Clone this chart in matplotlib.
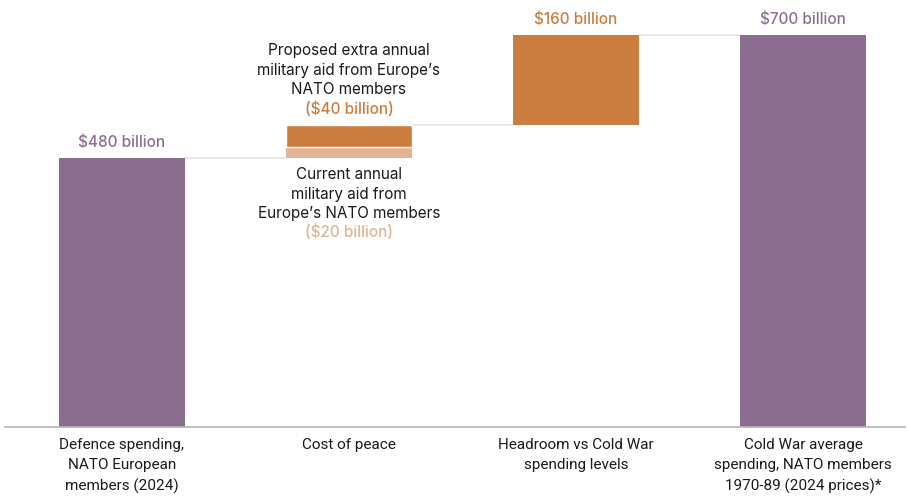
import matplotlib
matplotlib.use("Agg")
import matplotlib.pyplot as plt

categories = ["Defence spending,\nNATO European\nmembers (2024)", "Cost of peace",
              "Headroom vs Cold War\nspending levels",
              "Cold War average\nspending, NATO members\n1970-89 (2024 prices)*"]
defence_2024 = 480
current_aid = 20
proposed_aid = 40
headroom = 160
cold_war = 700
value_labels = ["$480 billion", "$160 billion", "$700 billion"]

purple = "#8b6e8f"
orange = "#cb7d40"
light_orange = "#e2b491"
grey_line = "#e3e3e3"

plt.rcParams['font.family'] = ['Inter', 'DejaVu Sans']

fig = plt.figure(figsize=(9.07, 4.96), dpi=100)
ax = fig.add_axes([5/907, (496-427)/496, 900/907, 427/496])
x = [0, 1, 2, 3]
w = 0.555

base_peace = defence_2024
top_current = base_peace + current_aid
top_peace = top_current + proposed_aid
top_head = top_peace + headroom

ax.bar(x[0], defence_2024, width=w, color=purple, zorder=2)
ax.bar(x[1], current_aid, bottom=base_peace, width=w, color=light_orange, zorder=2)
ax.bar(x[1], proposed_aid, bottom=top_current, width=w, color=orange,
       edgecolor="white", linewidth=1.0, zorder=2)
ax.bar(x[2], headroom, bottom=top_peace, width=w, color=orange, zorder=2)
ax.bar(x[3], cold_war, width=w, color=purple, zorder=2)

# connectors
ax.plot([x[0] + w/2, x[1] - w/2], [defence_2024]*2, color=grey_line, lw=1.2, zorder=1)
ax.plot([x[1] + w/2, x[2] - w/2], [top_peace]*2, color=grey_line, lw=1.2, zorder=1)
ax.plot([x[2] + w/2, x[3] - w/2], [top_head]*2, color=grey_line, lw=1.2, zorder=1)

ax.set_xlim(-0.515, 3.449)
ax.set_ylim(0, 762.5)
for s in ["top", "right", "left"]:
    ax.spines[s].set_visible(False)
ax.spines["bottom"].set_color("#b5b5b5")
ax.spines["bottom"].set_linewidth(1.2)
ax.set_yticks([])
ax.set_xticks(x)
ax.set_xticklabels(categories, fontsize=11, color="#1a1a1a",
                   family=['Roboto', 'DejaVu Sans'], linespacing=1.55)
ax.tick_params(axis="x", length=0, pad=8)

fs = 11
ax.text(x[0], defence_2024 + 14, value_labels[0], ha="center", va="bottom", color=purple,
        fontsize=fs, fontweight="medium")
ax.text(x[2], top_head + 14, value_labels[1], ha="center", va="bottom", color=orange,
        fontsize=fs, fontweight="medium")
ax.text(x[3], cold_war + 14, value_labels[2], ha="center", va="bottom", color=purple,
        fontsize=fs, fontweight="medium")

ax.text(x[1], 637, "Proposed extra annual\nmilitary aid from Europe\u2019s\nNATO members",
        ha="center", va="center", fontsize=fs, color="#1a1a1a", linespacing=1.38)
ax.text(x[1], 568, "($40 billion)", ha="center", va="center", fontsize=fs,
        color=orange, fontweight="medium")
ax.text(x[1], 416, "Current annual\nmilitary aid from\nEurope\u2019s NATO members",
        ha="center", va="center", fontsize=fs, color="#1a1a1a", linespacing=1.38)
ax.text(x[1], 348, "($20 billion)", ha="center", va="center", fontsize=fs,
        color=light_orange, fontweight="medium")

fig.savefig("out.png", dpi=100, facecolor="white")
